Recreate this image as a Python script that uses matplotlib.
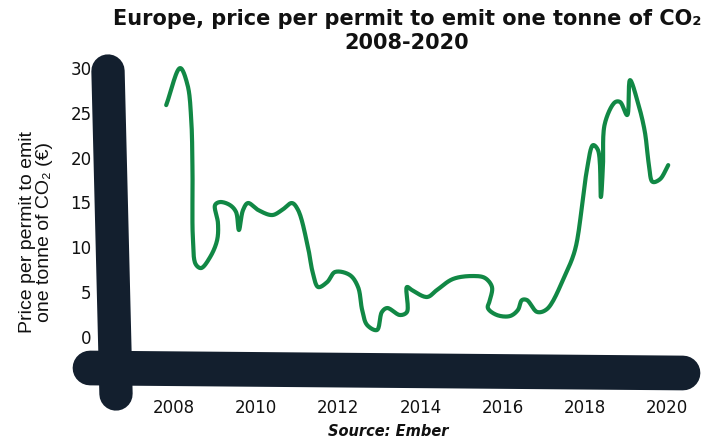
import numpy as np
import matplotlib
matplotlib.use("Agg")
import matplotlib.pyplot as plt
from matplotlib.lines import Line2D

#### data
years = [2007.81, 2008.15, 2008.33, 2008.42, 2008.45, 2008.46, 2008.53, 2008.66,
         2008.88, 2009.05, 2009.07, 2009.00, 2009.12, 2009.36, 2009.51, 2009.58,
         2009.68, 2009.80, 2010.05, 2010.39, 2010.63, 2010.87, 2011.02, 2011.26,
         2011.38, 2011.51, 2011.73, 2011.92, 2012.28, 2012.48, 2012.58, 2012.70,
         2012.94, 2013.06, 2013.19, 2013.50, 2013.67, 2013.67, 2013.79, 2014.16,
         2014.40, 2014.79, 2015.28, 2015.57, 2015.74, 2015.69, 2015.64, 2015.86,
         2016.18, 2016.37, 2016.47, 2016.59, 2016.84, 2017.08, 2017.52, 2017.76,
         2017.93, 2018.05, 2018.20, 2018.32, 2018.39, 2018.44, 2018.49, 2018.74,
         2018.86, 2019.03, 2019.10, 2019.30, 2019.46, 2019.56, 2019.65, 2019.83,
         2020.03]
prices = [25.86, 29.99, 28.10, 24.20, 18.60, 11.00, 8.10, 7.69,
          8.92, 10.81, 12.71, 14.72, 15.05, 14.72, 13.94, 11.93,
          14.16, 14.94, 14.16, 13.60, 14.16, 14.94, 14.16, 10.03,
          7.13, 5.57, 6.13, 7.25, 6.91, 5.57, 3.01, 1.34,
          0.78, 2.79, 3.23, 2.45, 2.79, 5.57, 5.24, 4.46,
          5.24, 6.47, 6.80, 6.58, 5.57, 4.12, 3.23, 2.45,
          2.34, 3.01, 4.12, 4.12, 2.79, 3.12, 6.91, 9.70,
          14.49, 18.62, 21.40, 20.85, 15.61, 18.95, 23.86, 26.20,
          26.20, 24.75, 28.65, 26.00, 22.90, 19.20, 17.30, 17.60,
          19.17]

x_ticks = [2008, 2010, 2012, 2014, 2016, 2018, 2020]
y_ticks = [0, 5, 10, 15, 20, 25, 30]

title = "Europe, price per permit to emit one tonne of CO\u2082\n2008-2020"
ylabel = "Price per permit to emit\none tonne of CO\u2082 (\u20ac)"
source = "Source: Ember"

GREEN = "#118845"
NAVY = "#131f2e"

W, H = 712, 441


def catmull_rom(xs, ys, n=16):
    ## centripetal catmull-rom, just to get the hand drawn smooth look
    pts = np.column_stack([xs, ys]).astype(float)
    pts = np.vstack([pts[0] * 2 - pts[1], pts, pts[-1] * 2 - pts[-2]])
    out = []
    for i in range(1, len(pts) - 2):
        p0, p1, p2, p3 = pts[i - 1], pts[i], pts[i + 1], pts[i + 2]
        t0 = 0.0
        t1 = t0 + np.linalg.norm(p1 - p0) ** 0.5 + 1e-9
        t2 = t1 + np.linalg.norm(p2 - p1) ** 0.5 + 1e-9
        t3 = t2 + np.linalg.norm(p3 - p2) ** 0.5 + 1e-9
        t = np.linspace(t1, t2, n)[:, None]
        a1 = (t1 - t) / (t1 - t0) * p0 + (t - t0) / (t1 - t0) * p1
        a2 = (t2 - t) / (t2 - t1) * p1 + (t - t1) / (t2 - t1) * p2
        a3 = (t3 - t) / (t3 - t2) * p2 + (t - t2) / (t3 - t2) * p3
        b1 = (t2 - t) / (t2 - t0) * a1 + (t - t0) / (t2 - t0) * a2
        b2 = (t3 - t) / (t3 - t1) * a2 + (t - t1) / (t3 - t1) * a3
        c = (t2 - t) / (t2 - t1) * b1 + (t - t1) / (t2 - t1) * b2
        out.append(c if i == 1 else c[1:])
    out = np.vstack(out)
    return out[:, 0], out[:, 1]


fig = plt.figure(figsize=(W / 100, H / 100), dpi=100)

## pixel layout: 2008 -> 174px, 2020 -> 667px ; 0 -> 337px, 30 -> 68px (from top)
px_per_year = (667 - 174) / 12
px_per_unit = (337 - 68) / 30
ax_l, ax_r, ax_t, ax_b = 100, 700, 60, 395
ax = fig.add_axes([ax_l / W, 1 - ax_b / H, (ax_r - ax_l) / W, (ax_b - ax_t) / H])
ax.set_xlim(2008 + (ax_l - 174) / px_per_year, 2008 + (ax_r - 174) / px_per_year)
ax.set_ylim((337 - ax_b) / px_per_unit, (337 - ax_t) / px_per_unit)

# scale the smoothing in pixel space so the curve doesn't get squashed
sx, sy = catmull_rom(np.array(years) * px_per_year, np.array(prices) * px_per_unit)
ax.plot(sx / px_per_year, sy / px_per_unit, color=GREEN, lw=3, solid_capstyle="round",
        solid_joinstyle="round", zorder=5)

for s in ax.spines.values():
    s.set_visible(False)
ax.set_xticks(x_ticks)
ax.set_xticklabels([str(y) for y in x_ticks])
ax.set_yticks(y_ticks)
ax.tick_params(length=0, labelsize=12, colors="#111111")
ax.tick_params(axis="y", pad=6)
ax.tick_params(axis="x", pad=3)

## chunky hand drawn axes (figure pixel coords)
def fig_line(x0, y0, x1, y1, lw):
    fig.add_artist(Line2D([x0 / W, x1 / W], [1 - y0 / H, 1 - y1 / H], color=NAVY,
                          lw=lw, solid_capstyle="round", transform=fig.transFigure))

fig_line(108, 71, 116, 394, 24)
fig_line(90, 368, 683, 373, 25)

fig.text(407 / W, 1 - 31 / H, title, ha="center", va="center", fontsize=15,
         fontweight="bold", linespacing=1.25, color="#111111")
fig.text(36 / W, 1 - 232 / H, ylabel, rotation=90, ha="center", va="center",
         multialignment="center", fontsize=14, linespacing=1.05,
         family="Liberation Sans", color="#111111")
fig.text(388 / W, 1 - 432 / H, source, ha="center", va="center", fontsize=10.5,
         fontweight="bold", style="italic", color="#111111")

plt.savefig("out.png", dpi=100)
